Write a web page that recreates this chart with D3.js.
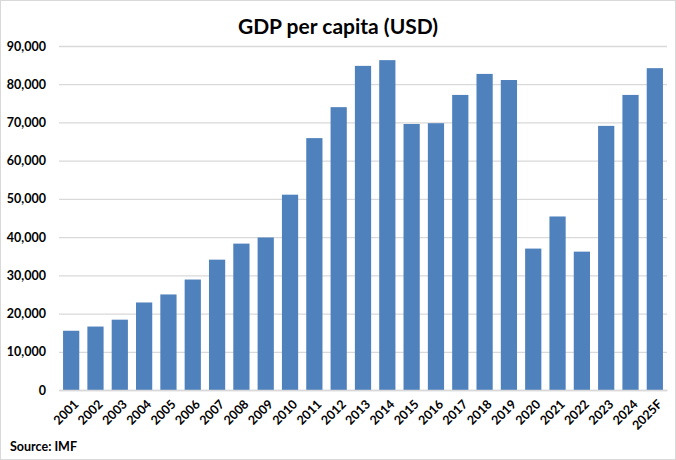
<!DOCTYPE html>
<html>
<head>
<meta charset="utf-8">
<script src="https://cdn.jsdelivr.net/npm/d3@7"></script>
<style>
  body { margin: 0; background: #fff; }
  text { font-family: Lato, "Open Sans", sans-serif; font-weight: bold; fill: #000; }
</style>
</head>
<body>
<div id="chart"></div>
<script>
const years = ["2001", "2002", "2003", "2004", "2005", "2006", "2007", "2008", "2009", "2010",
  "2011", "2012", "2013", "2014", "2015", "2016", "2017", "2018", "2019", "2020",
  "2021", "2022", "2023", "2024", "2025F"];
const gdp = [15500, 16600, 18400, 22900, 25000, 28900, 34100, 38300, 39900, 51100,
  65900, 74000, 84800, 86300, 69600, 69800, 77200, 82700, 81100, 37000,
  45400, 36200, 69100, 77200, 84200];
const yTicks = [0, 10000, 20000, 30000, 40000, 50000, 60000, 70000, 80000, 90000];

const width = 676, height = 460;
const margin = { left: 59, right: 9, top: 46, bottom: 70 };

const svg = d3.select("#chart").append("svg")
  .attr("width", width)
  .attr("height", height);

// outer border
svg.append("rect")
  .attr("x", 0.5).attr("y", 0.5)
  .attr("width", width - 1).attr("height", height - 1)
  .attr("fill", "#fff")
  .attr("stroke", "#d9d9d9");

const x = d3.scaleBand()
  .domain(years)
  .range([margin.left, width - margin.right])
  .paddingInner(0.333)
  .paddingOuter(0.1667);

const y = d3.scaleLinear()
  .domain([0, 90000])
  .range([height - margin.bottom, margin.top]);

// gridlines + y labels
const yAxis = svg.append("g")
  .attr("transform", `translate(${margin.left},0)`)
  .call(d3.axisLeft(y).tickValues(yTicks).tickSize(-(width - margin.left - margin.right))
    .tickFormat(d3.format(",")).tickPadding(13));
yAxis.select(".domain").remove();
yAxis.selectAll("line").attr("stroke", "#d9d9d9").attr("stroke-width", 1.3);
yAxis.selectAll("text").style("font-size", "12.5px");

// bars
svg.append("g")
  .selectAll("rect")
  .data(years)
  .join("rect")
  .attr("x", d => x(d))
  .attr("y", (d, i) => y(gdp[i]))
  .attr("width", x.bandwidth())
  .attr("height", (d, i) => y(0) - y(gdp[i]))
  .attr("fill", "#4f81bd");

// x axis
const xAxis = svg.append("g")
  .attr("transform", `translate(0,${y(0)})`)
  .call(d3.axisBottom(x).tickSize(0).tickPadding(0));
xAxis.select(".domain").attr("stroke", "#d9d9d9").attr("stroke-width", 1.3);
xAxis.selectAll("text")
  .style("font-size", "12.5px")
  .attr("text-anchor", "end")
  .attr("dy", "0.35em")
  .attr("transform", "translate(5,12) rotate(-45)");

// title
svg.append("text")
  .attr("x", width / 2)
  .attr("y", 34)
  .attr("text-anchor", "middle")
  .style("font-size", "21px")
  .text("GDP per capita (USD)");

// source
svg.append("text")
  .attr("x", 10)
  .attr("y", 451)
  .style("font-size", "12.5px")
  .text("Source: IMF");
</script>
</body>
</html>
